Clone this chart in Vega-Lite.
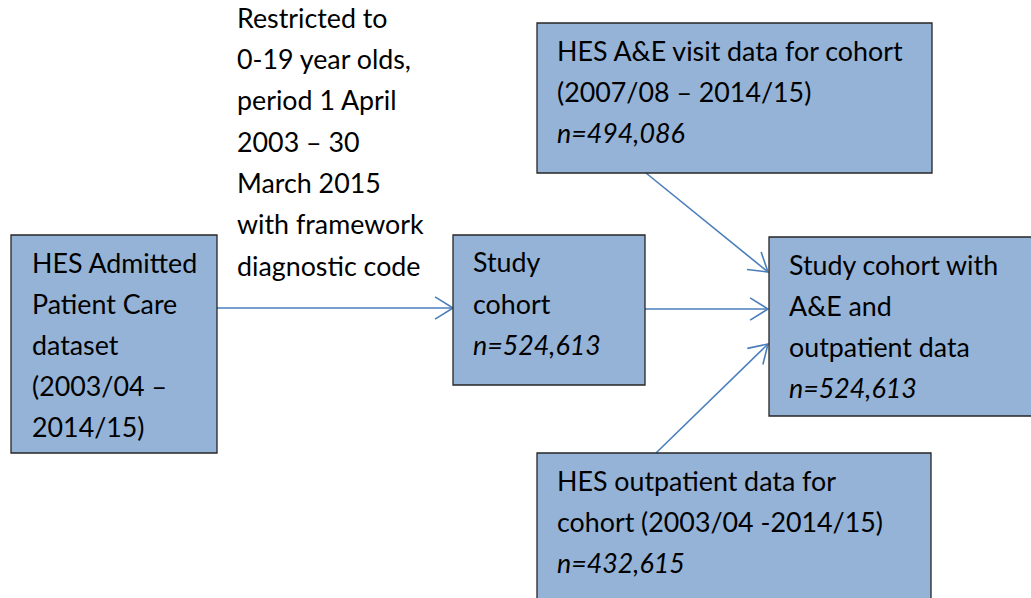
{
  "$schema": "https://vega.github.io/schema/vega-lite/v6.json",
  "width": 1031,
  "height": 598,
  "autosize": {"type": "fit", "contains": "padding"},
  "padding": 0,
  "background": "white",
  "config": {"view": {"stroke": null}},
  "datasets": {
    "boxes": [
      {"id": "apc", "x": 11, "x2": 217, "y": 235, "y2": 453},
      {"id": "cohort", "x": 453, "x2": 645, "y": 235, "y2": 385},
      {"id": "ae", "x": 537, "x2": 932, "y": 23, "y2": 173},
      {"id": "op", "x": 537, "x2": 931, "y": 453, "y2": 620},
      {"id": "final", "x": 769, "x2": 1045, "y": 237, "y2": 416}
    ],
    "lines": [
      {"x": 32, "y": 273, "text": "HES Admitted", "kind": "plain"},
      {"x": 32, "y": 314, "text": "Patient Care", "kind": "plain"},
      {"x": 32, "y": 355, "text": "dataset", "kind": "plain"},
      {"x": 32, "y": 396, "text": "(2003/04 –", "kind": "plain"},
      {"x": 32, "y": 437, "text": "2014/15)", "kind": "plain"},
      {"x": 237, "y": 28, "text": "Restricted to", "kind": "plain"},
      {"x": 237, "y": 69, "text": "0-19 year olds,", "kind": "plain"},
      {"x": 237, "y": 110, "text": "period 1 April", "kind": "plain"},
      {"x": 237, "y": 152, "text": "2003 – 30", "kind": "plain"},
      {"x": 237, "y": 193, "text": "March 2015", "kind": "plain"},
      {"x": 237, "y": 234, "text": "with framework", "kind": "plain"},
      {"x": 237, "y": 276, "text": "diagnostic code", "kind": "plain"},
      {"x": 473, "y": 272, "text": "Study", "kind": "plain"},
      {"x": 473, "y": 314, "text": "cohort", "kind": "plain"},
      {"x": 473, "y": 355, "text": "n=524,613", "kind": "n"},
      {"x": 557, "y": 61, "text": "HES A&E visit data for cohort", "kind": "plain"},
      {"x": 557, "y": 102, "text": "(2007/08 – 2014/15)", "kind": "plain"},
      {"x": 557, "y": 143, "text": "n=494,086", "kind": "n"},
      {"x": 557, "y": 491, "text": "HES outpatient data for", "kind": "plain"},
      {"x": 557, "y": 532, "text": "cohort (2003/04 -2014/15)", "kind": "plain"},
      {"x": 557, "y": 573, "text": "n=432,615", "kind": "n"},
      {"x": 789, "y": 275, "text": "Study cohort with", "kind": "plain"},
      {"x": 789, "y": 316, "text": "A&E and", "kind": "plain"},
      {"x": 789, "y": 357, "text": "outpatient data", "kind": "plain"},
      {"x": 789, "y": 398, "text": "n=524,613", "kind": "n"}
    ],
    "arrows": [
      {"x1": 217, "y1": 308, "x2": 453, "y2": 308, "angle": 0},
      {"x1": 645, "y1": 309, "x2": 768, "y2": 309, "angle": 0},
      {"x1": 646, "y1": 173, "x2": 768, "y2": 272, "angle": 39},
      {"x1": 656, "y1": 453, "x2": 768, "y2": 344, "angle": 316}
    ]
  },
  "layer": [
    {
      "data": {"name": "arrows"},
      "mark": {"type": "rule", "color": "#4a7ebb", "strokeWidth": 1.6},
      "encoding": {
        "x": {"field": "x1", "type": "quantitative", "scale": {"domain": [0, 1031], "nice": false, "zero": false}, "axis": null},
        "y": {"field": "y1", "type": "quantitative", "scale": {"domain": [0, 598], "nice": false, "zero": false, "reverse": true}, "axis": null},
        "x2": {"field": "x2"},
        "y2": {"field": "y2"}
      }
    },
    {
      "data": {"name": "arrows"},
      "mark": {"type": "point", "shape": "M-1.6,-1L0,0L-1.6,1", "filled": false, "stroke": "#4a7ebb", "strokeWidth": 1.6, "size": 500, "opacity": 1},
      "encoding": {
        "x": {"field": "x2", "type": "quantitative"},
        "y": {"field": "y2", "type": "quantitative"},
        "angle": {"field": "angle", "type": "quantitative", "scale": null}
      }
    },
    {
      "data": {"name": "boxes"},
      "mark": {"type": "rect", "fill": "#95b3d7", "stroke": "#262626", "strokeWidth": 1.3, "clip": true},
      "encoding": {
        "x": {"field": "x", "type": "quantitative"},
        "x2": {"field": "x2"},
        "y": {"field": "y", "type": "quantitative"},
        "y2": {"field": "y2"}
      }
    },
    {
      "data": {"name": "lines"},
      "transform": [{"filter": "datum.kind === 'plain'"}],
      "mark": {"type": "text", "align": "left", "baseline": "alphabetic", "font": "Lato", "fontSize": 26.8, "color": "#000000"},
      "encoding": {
        "x": {"field": "x", "type": "quantitative"},
        "y": {"field": "y", "type": "quantitative"},
        "text": {"field": "text"}
      }
    },
    {
      "data": {"name": "lines"},
      "transform": [{"filter": "datum.kind === 'n'"}],
      "mark": {"type": "text", "align": "left", "baseline": "alphabetic", "font": "Lato", "fontSize": 26.8, "fontStyle": "italic", "color": "#000000"},
      "encoding": {
        "x": {"field": "x", "type": "quantitative"},
        "y": {"field": "y", "type": "quantitative"},
        "text": {"field": "text"}
      }
    }
  ]
}
